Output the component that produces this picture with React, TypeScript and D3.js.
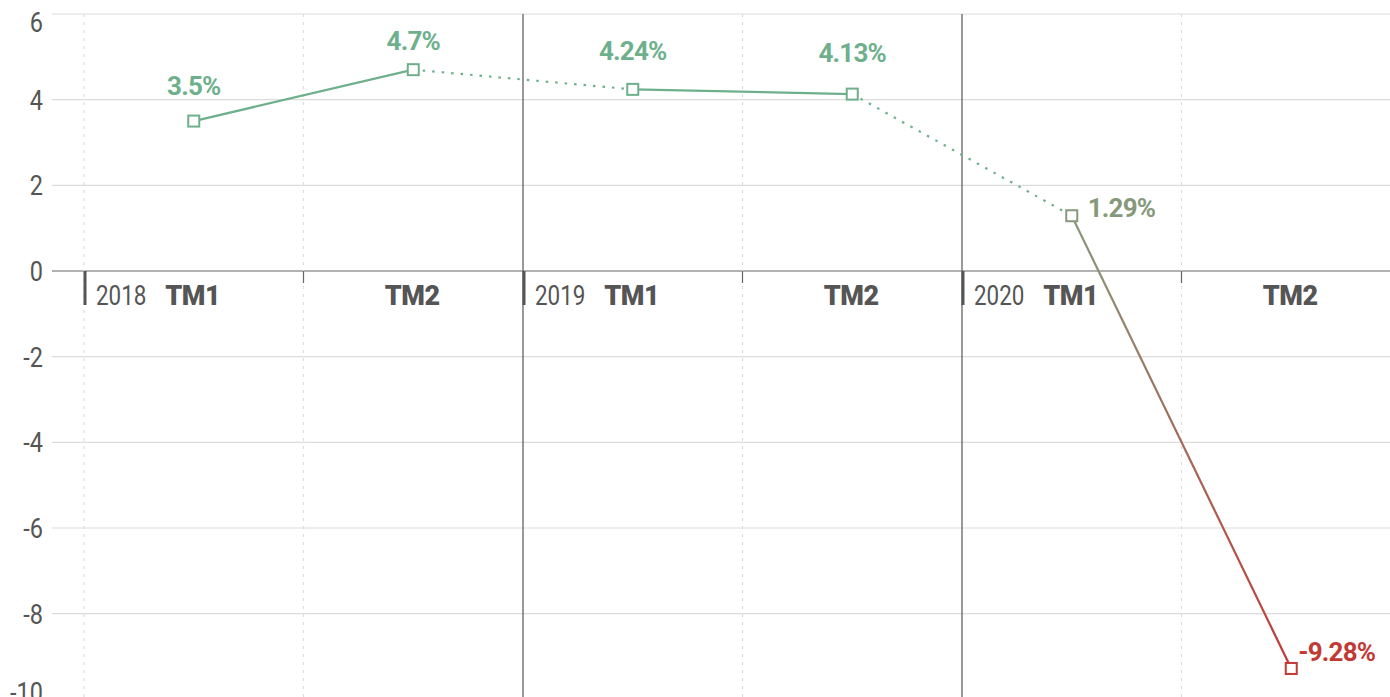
import React from "react";
import * as d3 from "d3";

const years = ["2018", "2019", "2020"];
const periods = ["TM1", "TM2"];
const values = [3.5, 4.7, 4.24, 4.13, 1.29, -9.28];
const labels = ["3.5%", "4.7%", "4.24%", "4.13%", "1.29%", "-9.28%"];
const yTicks = [6, 4, 2, 0, -2, -4, -6, -8, -10];

const W = 1390;
const H = 697;
const GREEN = "#6fb08c";
const OLIVE = "#869a7b";
const RED = "#c23a35";

export default function App() {
  const cats = years.flatMap((y) => periods.map((p) => `${y}-${p}`));
  const x = d3.scaleBand<string>().domain(cats).range([84, 1401]);
  const y = d3.scaleLinear().domain([-10, 6]).range([699.3, 14]);
  const cx = (i: number) => (x(cats[i]) as number) + x.bandwidth() / 2;
  const bw = x.bandwidth();
  const line = d3.line<[number, number]>().x((d) => d[0]).y((d) => d[1]);
  const pts: [number, number][] = values.map((v, i) => [cx(i), y(v)]);
  const segs = pts.slice(0, -1).map((p, i) => ({ a: p, b: pts[i + 1], i }));
  const font = "Roboto, 'Noto Sans', sans-serif";
  const tickShift = (t: number) => (t === 6 ? 8 : t === -10 ? -7 : 0);
  const aboveDy = [-26, -20, -29, -32];
  const labelOffset = (i: number): [number, number] =>
    i === 4 ? [16, 1] : i === 5 ? [7, -7] : [0, aboveDy[i]];

  return (
    <svg width={W} height={H} style={{ position: "absolute", left: 0, top: 0 }} fontFamily={font}>
      <defs>
        <linearGradient id="lastSeg" gradientUnits="userSpaceOnUse" x1={pts[4][0]} y1={pts[4][1]} x2={pts[5][0]} y2={pts[5][1]}>
          <stop offset="0%" stopColor={OLIVE} />
          <stop offset="100%" stopColor={RED} />
        </linearGradient>
      </defs>
      {/* horizontal gridlines */}
      {yTicks.map((t) => (
        <line key={t} x1={52} x2={W} y1={y(t)} y2={y(t)} stroke={t === 0 ? "#666" : "#dcdcdc"} strokeWidth={1.2} />
      ))}
      {yTicks.map((t) => (
        <g key={"l" + t} transform={`translate(43,${y(t) + tickShift(t)}) scale(0.84,1)`}>
          <text x={0} y={0} dy="0.36em" textAnchor="end" fontSize={28} fill="#555">
            {t}
          </text>
        </g>
      ))}
      {/* vertical lines */}
      {cats.map((c, i) => {
        const xs = x(c) as number;
        const yearStart = i % 2 === 0;
        if (yearStart && i > 0) {
          return <line key={c} x1={xs} x2={xs} y1={14} y2={H} stroke="#555" strokeWidth={1.2} />;
        }
        return <line key={c} x1={xs} x2={xs} y1={14} y2={H} stroke="#ddd" strokeWidth={1.2} strokeDasharray="3,5" />;
      })}
      {/* axis ticks */}
      {cats.map((c, i) => {
        const xs = x(c) as number;
        const yearStart = i % 2 === 0;
        return yearStart ? (
          <line key={"t" + c} x1={xs + 1} x2={xs + 1} y1={y(0)} y2={y(0) + 34} stroke="#555" strokeWidth={3} />
        ) : (
          <line key={"t" + c} x1={xs} x2={xs} y1={y(0)} y2={y(0) + 12} stroke="#666" strokeWidth={1.2} />
        );
      })}
      {/* category labels */}
      {cats.map((c, i) => {
        const xs = x(c) as number;
        const [yr, p] = c.split("-");
        return (
          <g key={"c" + c}>
            {i % 2 === 0 && (
              <g transform={`translate(${xs + 12},${y(0) + 34}) scale(0.8,1)`}>
                <text x={0} y={0} fontSize={28} fill="#555">
                  {yr}
                </text>
              </g>
            )}
            <text x={xs + bw / 2 - 1} y={y(0) + 34} fontSize={27} fontWeight={900} fill="#555" textAnchor="middle" letterSpacing={-0.5}>
              {p}
            </text>
          </g>
        );
      })}
      {/* line segments */}
      {segs.map(({ a, b, i }) => {
        const sameYear = i % 2 === 0;
        const stroke = i === 4 ? "url(#lastSeg)" : GREEN;
        return (
          <path
            key={"s" + i}
            d={line([a, b]) as string}
            fill="none"
            stroke={stroke}
            strokeWidth={2.2}
            strokeDasharray={sameYear ? undefined : "2.5,7"}
            strokeLinecap="butt"
          />
        );
      })}
      {/* markers */}
      {pts.map((p, i) => {
        const col = i === 5 ? RED : i === 4 ? OLIVE : GREEN;
        return <rect key={"m" + i} x={p[0] - 5.5} y={p[1] - 5.5} width={11} height={11} fill="#fff" stroke={col} strokeWidth={2} />;
      })}
      {/* value labels */}
      {pts.map((p, i) => {
        const col = i === 5 ? RED : i === 4 ? OLIVE : GREEN;
        const side = i >= 4;
        const [dx, dy] = labelOffset(i);
        return (
          <text
            key={"v" + i}
            x={p[0] + dx}
            y={p[1] + dy}
            textAnchor={side ? "start" : "middle"}
            fontSize={26}
            fontWeight={700}
            fill={col}
            letterSpacing={-0.8}
          >
            {labels[i]}
          </text>
        );
      })}
    </svg>
  );
}
